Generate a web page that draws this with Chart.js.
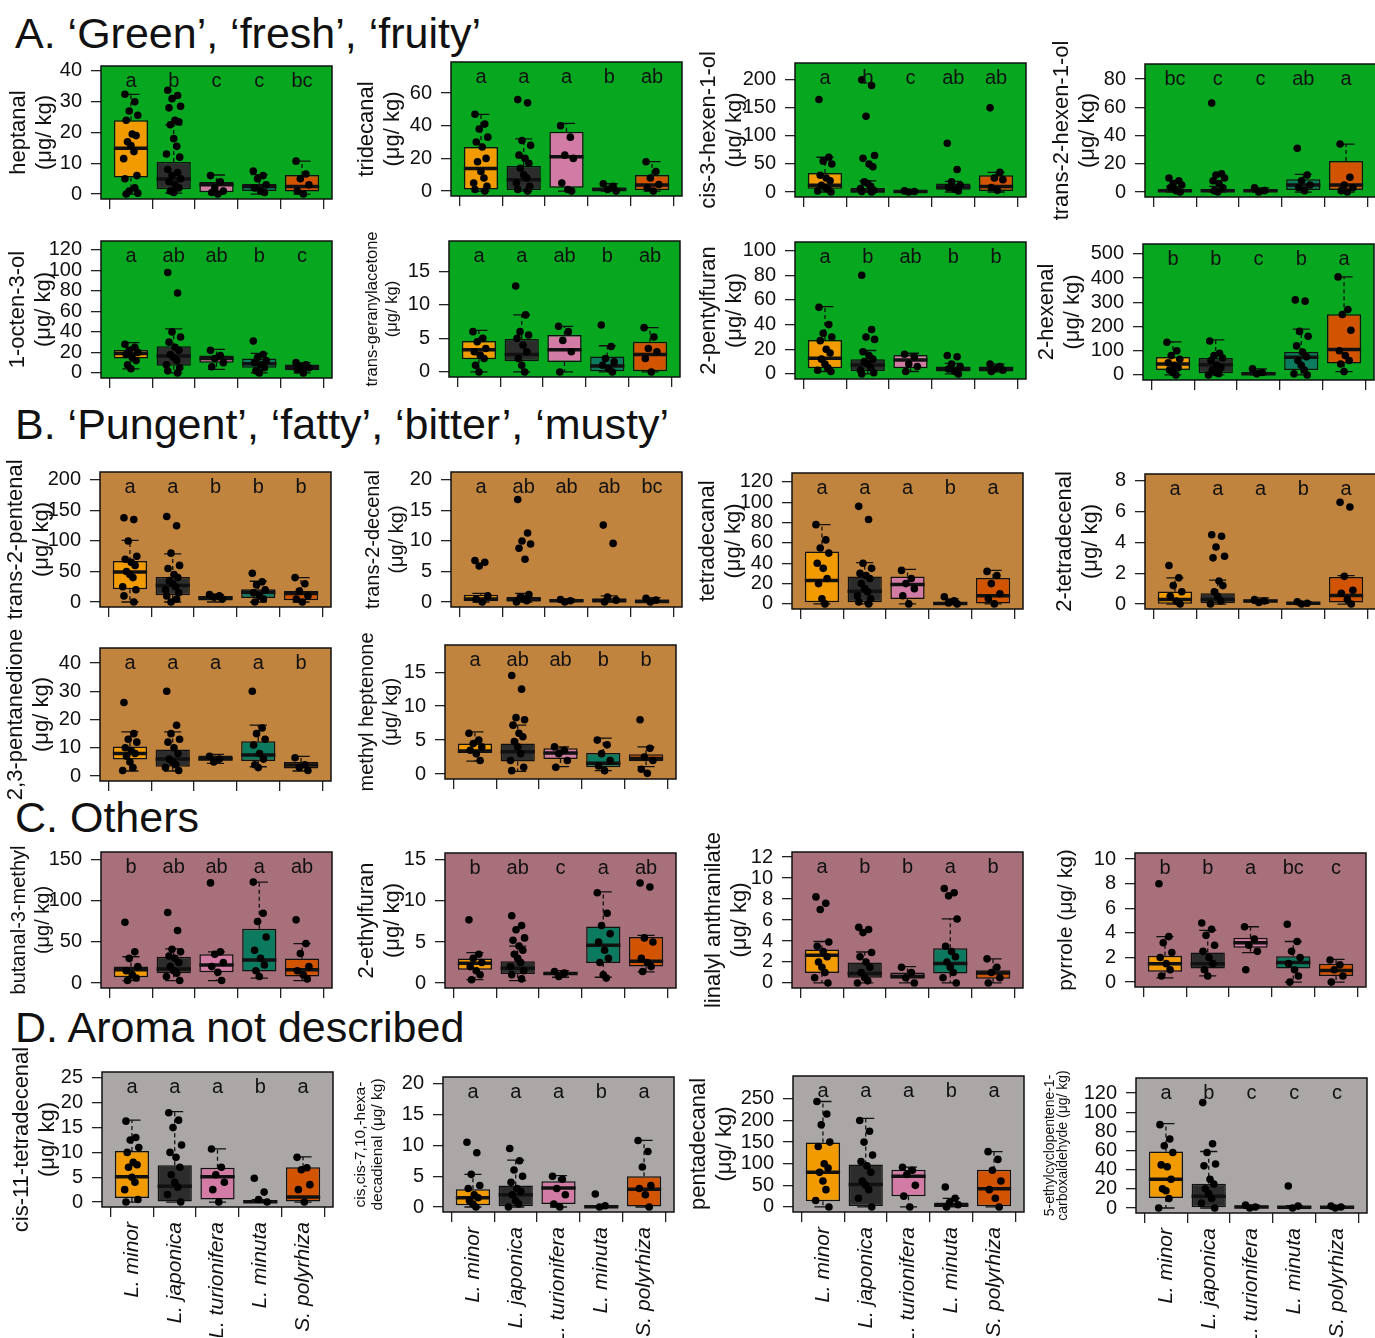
<!DOCTYPE html>
<html>
<head>
<meta charset="utf-8">
<script src="https://cdn.jsdelivr.net/npm/chart.js@4.4.1/dist/chart.umd.min.js"></script>
<style>
  html, body { margin: 0; padding: 0; background: #fff; }
  #page { position: relative; width: 1375px; height: 1338px; overflow: hidden; font-family: 'Liberation Sans', Arial, sans-serif; }
  .sec { position: absolute; left: 15px; font-size: 43px; line-height: 1; color: #111; white-space: nowrap; }
  canvas { position: absolute; }
</style>
</head>
<body>
<div id="page">
  <div class="sec" style="top:12px">A. ‘Green’, ‘fresh’, ‘fruity’</div>
  <div class="sec" style="top:403px">B. ‘Pungent’, ‘fatty’, ‘bitter’, ‘musty’</div>
  <div class="sec" style="top:796px">C. Others</div>
  <div class="sec" style="top:1006px">D. Aroma not described</div>
</div>
<script>
const species = ['L. minor', 'L. japonica', 'L. turionifera', 'L. minuta', 'S. polyrhiza'];
const speciesColors = ['#f29b00', '#2c2c2c', '#d27ba5', '#0c7a5e', '#d35400'];

// each box row: [lower whisker, q1, median, q3, upper whisker], one row per species
const heptanalBox = [[0,5.4,14.9,24,32.4],[0.3,1.6,4.9,10.4,22.5],[0,0.6,3.0,3.9,6.2],[0,1.0,2.5,3.3,6.3],[0,0.8,2.5,6.2,10.7]];
const heptanalPts = [[32.4,30,27,25.6,24,19.5,19,17,15.8,13.8,11.5,6,5,2,1,0.3,0],[33.7,32,31,28.5,28,24,23.5,22.5,18,15.5,13,12,8,7,6,5,4,3,2,1,0.5],[6,4,2,1,0.5,0],[7.5,6,5,3,2,1,0.5],[10.7,6.5,5,3,1,0]];
const heptanalSig = ['a','b','c','c','bc'];
const heptanalTicks = [0,10,20,30,40];

const tridecanalBox = [[0,1,13.9,27,47],[0,0.6,7,15.3,32],[0,2,21,36.3,41.4],[0,0.2,1,2.2,4.5],[0,0.5,3.7,9.8,18]];
const tridecanalPts = [[47,41,38,33,30,27,20,18,12,8,5,3,1,0],[56,54,31,28,22,20,17,14,10,8,5,3,1,0],[40,33,22,20,5,1,0],[4.5,3,1,0],[18,12,8,4,2,0]];
const tridecanalSig = ['a','a','a','b','ab'];
const tridecanalTicks = [0,20,40,60];

const cis3hexenolBox = [[0,6,12,34,62],[0,0.5,2,7,20],[0,0,1,2,3],[0,4,9,15,19],[0,2,10,30,35]];
const cis3hexenolPts = [[165,62,55,50,30,25,20,12,8,5,2,0],[200,190,135,65,60,50,45,18,15,10,6,3,1,0],[2,1,0],[87,40,18,12,8,5,2],[150,35,25,22,8,3]];
const cis3hexenolSig = ['a','b','c','ab','ab'];
const cis3hexenolTicks = [0,50,100,150,200];

const trans2hexenolBox = [[0,0.2,1,2,4],[0,0.3,1,2.2,4],[0,0.2,1,2,3],[0,1.5,5,9,12.5],[0,1.5,5,22,34]];
const trans2hexenolPts = [[10,8,6,5,3,1,0],[63,13,12,10,8,6,3,1,0],[3,1,0],[31,12,8,5,3,1],[34,10.5,5,3,1,0]];
const trans2hexenolSig = ['bc','c','c','ab','a'];
const trans2hexenolTicks = [0,20,40,60,80];

const octenolBox = [[4,14,19,22.4,29.6],[0,7,16.4,26,43],[3.5,10,14,17,23],[0,5,9,14,19],[0,2.6,5,8.2,10]];
const octenolPts = [[28,25,22,20,18,15,12,8,4],[98,78,40,35,30,25,22,18,15,12,8,5,2,0],[22,17,14,10,6],[31,18,15,12,10,8,5,2,0],[10,8,6,5,3,0]];
const octenolSig = ['a','ab','ab','b','c'];
const octenolTicks = [0,20,40,60,80,100,120];

const geranylacetoneBox = [[0,1.9,3.3,4.6,6.2],[0,1.6,2.6,4.9,8.5],[0,1.5,3.3,5.5,6.8],[0,0,0.9,2.3,3.9],[0,0,2.6,4.5,6.6]];
const geranylacetonePts = [[6,5,4.5,3.5,3,2.5,2,1,0],[12.8,8.5,6,5.5,5,4,3,2,1,0],[6.8,6,4.7,3,0],[7,3.8,2,1.5,1,0.5,0],[6.6,5.2,3.5,3,2,0]];
const geranylacetoneSig = ['a','a','ab','b','ab'];
const geranylacetoneTicks = [0,5,10,15];

const pentylfuranBox = [[2,4.6,12.7,27.6,54.6],[0,2.4,7.3,12,19],[2,4.6,11.4,15.4,16.8],[0,2,4,6,8.6],[1.6,2,4.3,6,8]];
const pentylfuranPts = [[54,40,33,30,27,20,17,12,8,5,3,2],[80,36,30,28,18,15,12,10,8,5,3,1,0],[16,14,8,6,2],[15,14,8,6,4,2,0],[8,6,4,3,2]];
const pentylfuranSig = ['a','b','ab','b','b'];
const pentylfuranTicks = [0,20,40,60,80,100];

const hexenalBox = [[0,21,45,74,137],[0,7,42,70,145],[0,0,5,10,25],[0,21,73,95,189],[14,47,105,251,405]];
const hexenalPts = [[135,100,80,65,50,40,30,20,10,0],[140,90,80,70,60,40,30,20,10,5,0],[25,10,5],[310,305,180,160,120,95,75,60,40,20,5,0],[405,270,250,185,100,80,60,45,14]];
const hexenalSig = ['b','b','c','b','a'];
const hexenalTicks = [0,100,200,300,400,500];

const pentenalBox = [[0,20.7,49,67,101],[0,11,27,41,79],[0,2.5,7,9.5,12],[0,6.5,16,20.7,34],[0,3,14,18,40]];
const pentenalPts = [[138,135,100,75,70,65,60,50,45,40,25,20,10,0],[140,125,80,60,55,45,40,35,30,25,20,15,10,5,0],[12,10,8,5],[47,33,28,20,15,10,5,0],[40,30,18,10,5,0]];
const pentenalSig = ['a','a','b','b','b'];
const pentenalTicks = [0,50,100,150,200];

const decenalBox = [[0,0,0.5,1.2,1.4],[0,0.1,0.4,0.8,1.4],[0,0.1,0.2,0.4,0.5],[0,0,0.2,0.6,1],[0,0,0.1,0.4,0.7]];
const decenalPts = [[6.8,6.5,5.9,1,0.5,0],[16.8,11.3,10,9.5,8.8,7,1.2,0.8,0.5,0.2,0],[0.4,0.2,0],[12.6,9.6,0.8,0.3,0],[0.6,0.3,0]];
const decenalSig = ['a','ab','ab','ab','bc'];
const decenalTicks = [0,5,10,15,20];

const tetradecanalBox = [[0,1.6,23,51.5,78],[0,1.6,12.4,27,40.7],[0,4.9,19,27,34],[0,0,0.5,1.6,5],[0,0.3,8.1,25.4,33]];
const tetradecanalPts = [[78,63,55,50,40,35,25,20,5,0],[96,83,40,35,30,28,25,20,15,12,8,5,2,0],[33,25,20,15,8,0],[7,3,1,0],[32,28,20,10,5,0]];
const tetradecanalSig = ['a','a','a','b','a'];
const tetradecanalTicks = [0,20,40,60,80,100,120];

const tetradecenalBox = [[0,0.02,0.3,0.82,1.7],[0,0.05,0.3,0.7,1.55],[0.05,0.1,0.2,0.3,0.4],[0,0,0.05,0.1,0.15],[0,0.1,0.55,1.75,1.85]];
const tetradecenalPts = [[2.5,1.7,1.2,0.8,0.5,0.2,0],[4.5,4.4,3.7,3.1,3.0,1.5,1.2,0.8,0.5,0.2,0],[0.3,0.2,0.1],[0.15,0.05,0],[6.6,6.3,1.8,0.9,0.7,0.3,0]];
const tetradecenalSig = ['a','a','a','b','a'];
const tetradecenalTicks = [0,2,4,6,8];

const pentanedioneBox = [[1.8,5.9,8,10.5,15.6],[1.8,3.3,6,9.4,15.6],[4.5,5.4,6.1,7.3,7.7],[3.3,5.3,7.5,12.3,18],[1.8,2.7,3.9,5,7]];
const pentanedionePts = [[26,15,13,12,10,9,8,7,5,3,2],[30,18,15,13,12,10,8,6,5,4,3,2],[7,6,5],[30,17,15,13,11,8,6,4,3],[6.5,4,3,2]];
const pentanedioneSig = ['a','a','a','a','b'];
const pentanedioneTicks = [0,10,20,30,40];

const heptenoneBox = [[1.9,3.1,3.4,4.5,6.2],[0.4,1.85,3.3,4.5,7.2],[1.1,2.2,3.1,3.8,4.0],[0.5,1,1.6,3.1,5.3],[1.1,1.9,2.3,2.9,4]];
const heptenonePts = [[6,5,4.5,4,3.5,3,2],[14.5,12.5,8.3,8,7.2,6,5.5,4.8,4,3,2,1,0.5],[4,3.5,3,2,1],[5,4.3,3,2,1.2,0.5],[8,3.8,2.5,2,0.7,0.1]];
const heptenoneSig = ['a','ab','ab','b','b'];
const heptenoneTicks = [0,5,10,15];

const methylbutanalBox = [[3,7,16,20,32],[3,12,17,32,41.5],[3,13,22,35,38],[6,14,28,66,123],[3,8,16,30,48]];
const methylbutanalPts = [[74,38,30,20,15,10,6,3],[86,64,41,38,33,30,25,20,15,12,8,3],[122,38,35,25,20,13,3],[123,85,75,56,40,30,22,15,8],[77,48,36,20,15,10,5]];
const methylbutanalSig = ['b','ab','ab','a','ab'];
const methylbutanalTicks = [0,50,100,150];

const ethylfuranBox = [[0.4,1.6,2.4,3,3.7],[0.3,1.1,1.8,2.65,4.5],[0.7,1.0,1.15,1.3,1.5],[0.7,2.45,4.6,6.9,11.1],[1.35,2,2.65,5.6,5.8]];
const ethylfuranPts = [[7.7,3.5,3,2.5,2,1.5,1,0.4],[8.2,7,6.5,5.5,5.2,4.5,4,3.5,3,2.5,2,1.5,1,0.5],[1.4,1.2,0.8],[11,8.5,7,6,5,4,3,2.5,1,0.6],[12.2,11.7,5.5,5,3,2.5,2,1.4]];
const ethylfuranSig = ['b','ab','c','a','ab'];
const ethylfuranTicks = [0,5,10,15];

const anthranilateBox = [[0,0.95,2.65,3.2,3.95],[0,0.5,0.9,1.95,2.95],[0,0.4,0.65,1.0,1.55],[0,0.9,1.85,3.3,6.1],[0,0.4,0.95,1.2,2.3]];
const anthranilatePts = [[8.2,7.6,7.0,3.9,3.5,3,2.5,2,1.5,1,0.5,0],[5.3,5.1,4.8,2.9,2.5,2,1.5,1,0.5,0.2,0],[1.5,1,0.5,0],[9,8.6,8.3,6.1,3.5,3,2.5,2,1.5,1,0.5,0],[2.3,1.5,1,0.5,0]];
const anthranilateSig = ['a','b','b','a','b'];
const anthranilateTicks = [0,2,4,6,8,10,12];

const pyrroleBox = [[0.35,0.85,1.5,2.15,3.7],[0.5,1.1,1.5,2.4,4.2],[2.4,2.8,3.2,3.6,4.5],[0,1.1,1.6,2.1,3.3],[0,0.5,0.95,1.5,1.85]];
const pyrrolePts = [[8,3.7,3.2,2.4,2,1.5,1,0.5],[4.8,4.3,3.8,3,2.5,2,1.5,1,0.5],[4.5,3.5,3,2.5,1.0],[4.7,3.3,2.5,2,1.5,1,0.5,0],[1.8,1.4,1,0.5,0]];
const pyrroleSig = ['b','b','a','bc','c'];
const pyrroleTicks = [0,2,4,6,8,10];

const cis11Box = [[0,0.8,5.1,10.3,16.5],[0,0,3.2,7.4,18.2],[0,0.5,5.1,6.9,10.7],[0,0,0.05,0.3,0.5],[0,0,1,7,9.1]];
const cis11Pts = [[16.3,13,12.5,11,10,8,7.5,7,5,4,2.5,0.5,0],[18,16.5,15,11.5,10,9,7,5.5,4,3,1.5,0],[10.7,7,5.5,4,2.5,0],[4.8,2,0.5,0],[9,6.9,6.5,3.5,2.5,0]];
const cis11Sig = ['a','a','a','b','a'];
const cis11Ticks = [0,5,10,15,20,25];

const hexadecadienalBox = [[0,0.3,1.5,2.9,5.3],[0,0,2,3.5,7.6],[0,0.5,3.1,4.2,5.1],[0,0,0.05,0.15,0.2],[0,0.1,2.9,5,10.8]];
const hexadecadienalPts = [[10.5,8.8,5.3,3.5,3,2,1.5,1,0.5,0],[9.5,7.5,6,5,4,3,2.5,2,1,0.5,0],[5,4.5,3,2,0.5,0],[2.1,0.2,0],[10.8,9,6.5,3.5,3,2,0]];
const hexadecadienalSig = ['a','a','a','b','a'];
const hexadecadienalTicks = [0,5,10,15,20];

const pentadecanalBox = [[0,13,80,149,244],[0,2.3,52,98,205],[0,25,71,86,92],[0,0,4,10,20],[0,0,42,86,128]];
const pentadecanalPts = [[244,215,190,150,140,100,90,80,60,40,15,0],[200,175,150,120,105,95,80,60,50,40,20,0],[92,85,75,50,25,0],[46,20,10,5,0],[128,110,85,60,40,20,0]];
const pentadecanalSig = ['a','a','a','b','a'];
const pentadecanalTicks = [0,50,100,150,200,250];

const cyclopenteneBox = [[0,10.5,30,59,88],[0,0,12.3,25.4,59],[0,0.3,1,2.5,3],[0,0,0.8,2,2.5],[0,0,0.7,1.8,2.2]];
const cyclopentenePts = [[87,72,65,58,45,43,30,20,18,10,0],[110,67,58,46,44,30,25,20,15,10,5,0],[3,1,0],[23,2,0],[2,1,0]];
const cyclopenteneSig = ['a','b','c','c','c'];
const cyclopenteneTicks = [0,20,40,60,80,100,120];

const FONT = "'Liberation Sans', Arial, sans-serif";
const BG = { A: '#07a820', B: '#c0843f', C: '#a8707b', D: '#aba7a7' };
const UG = '(μg/ kg)';
// fixed horizontal spread of the dots inside a box (in category units)
const jitter = [-0.14, 0.09, -0.04, 0.16, -0.11, 0.03, 0.12, -0.08, 0.0, 0.07, -0.17, 0.14];

const panels = [
  { box: heptanalBox, pts: heptanalPts, sig: heptanalSig, ticks: heptanalTicks, yMin: -1.6, yMax: 41.6, title: ['heptanal', UG], L: 101, T: 66, H: 133, TL: 10, bg: BG.A },
  { box: tridecanalBox, pts: tridecanalPts, sig: tridecanalSig, ticks: tridecanalTicks, yMin: -3, yMax: 79, title: ['tridecanal', UG], L: 451, T: 62, H: 134, TL: 358, bg: BG.A },
  { box: cis3hexenolBox, pts: cis3hexenolPts, sig: cis3hexenolSig, ticks: cis3hexenolTicks, yMin: -8.9, yMax: 230, title: ['cis-3-hexen-1-ol', UG], L: 795, T: 63, H: 134, TL: 700, bg: BG.A },
  { box: trans2hexenolBox, pts: trans2hexenolPts, sig: trans2hexenolSig, ticks: trans2hexenolTicks, yMin: -3.5, yMax: 90.7, title: ['trans-2-hexen-1-ol', UG], L: 1145, T: 64, H: 133, TL: 1053, bg: BG.A },

  { box: octenolBox, pts: octenolPts, sig: octenolSig, ticks: octenolTicks, yMin: -5, yMax: 128.7, title: ['1-octen-3-ol', UG], L: 101, T: 241, H: 137, TL: 9, bg: BG.A },
  { box: geranylacetoneBox, pts: geranylacetonePts, sig: geranylacetoneSig, ticks: geranylacetoneTicks, yMin: -0.75, yMax: 19.5, title: ['trans-geranylacetone', UG], tSize: 16.5, L: 449, T: 241, H: 136, TL: 366, bg: BG.A },
  { box: pentylfuranBox, pts: pentylfuranPts, sig: pentylfuranSig, ticks: pentylfuranTicks, yMin: -4.1, yMax: 107, title: ['2-pentylfuran', UG], L: 795, T: 242, H: 137, TL: 700, bg: BG.A },
  { box: hexenalBox, pts: hexenalPts, sig: hexenalSig, ticks: hexenalTicks, yMin: -20.8, yMax: 541, title: ['2-hexenal', UG], L: 1143, T: 244, H: 136, TL: 1038, bg: BG.A },

  { box: pentenalBox, pts: pentenalPts, sig: pentenalSig, ticks: pentenalTicks, yMin: -8.2, yMax: 213, title: ['trans-2-pentenal', UG], L: 100, T: 472, H: 135, TL: 7, bg: BG.B },
  { box: decenalBox, pts: decenalPts, sig: decenalSig, ticks: decenalTicks, yMin: -0.82, yMax: 21.3, title: ['trans-2-decenal', UG], tSize: 20, L: 451, T: 472, H: 135, TL: 365, bg: BG.B },
  { box: tetradecanalBox, pts: tetradecanalPts, sig: tetradecanalSig, ticks: tetradecanalTicks, yMin: -5, yMax: 128.8, title: ['tetradecanal', UG], L: 792, T: 473, H: 136, TL: 699, bg: BG.B },
  { box: tetradecenalBox, pts: tetradecenalPts, sig: tetradecenalSig, ticks: tetradecenalTicks, yMin: -0.32, yMax: 8.44, title: ['2-tetradecenal', UG], L: 1145, T: 474, H: 135, TL: 1056, bg: BG.B },

  { box: pentanedioneBox, pts: pentanedionePts, sig: pentanedioneSig, ticks: pentanedioneTicks, yMin: -1.74, yMax: 45.3, title: ['2,3-pentanedione', UG], L: 100, T: 648, H: 133, TL: 7, bg: BG.B },
  { box: heptenoneBox, pts: heptenonePts, sig: heptenoneSig, ticks: heptenoneTicks, yMin: -0.73, yMax: 19, title: ['methyl heptenone', UG], tSize: 20, L: 445, T: 645, H: 134, TL: 359, bg: BG.B },

  { box: methylbutanalBox, pts: methylbutanalPts, sig: methylbutanalSig, ticks: methylbutanalTicks, yMin: -6.1, yMax: 159.7, title: ['butanal-3-methyl', UG], tSize: 20, L: 101, T: 852, H: 136, TL: 11, bg: BG.C },
  { box: ethylfuranBox, pts: ethylfuranPts, sig: ethylfuranSig, ticks: ethylfuranTicks, yMin: -0.61, yMax: 15.85, title: ['2-ethylfuran', UG], L: 445, T: 853, H: 135, TL: 358, bg: BG.C },
  { box: anthranilateBox, pts: anthranilatePts, sig: anthranilateSig, ticks: anthranilateTicks, yMin: -0.48, yMax: 12.48, title: ['linalyl anthranilate', UG], L: 792, T: 852, H: 136, TL: 705, bg: BG.C },
  { box: pyrroleBox, pts: pyrrolePts, sig: pyrroleSig, ticks: pyrroleTicks, yMin: -0.4, yMax: 10.5, title: ['pyrrole ' + UG], tSize: 21, L: 1135, T: 853, H: 134, TL: 1058, bg: BG.C },

  { box: cis11Box, pts: cis11Pts, sig: cis11Sig, ticks: cis11Ticks, yMin: -1, yMax: 26.2, title: ['cis-11-tetradecenal', UG], L: 102, T: 1072, H: 135, TL: 13, bg: BG.D, labels: true },
  { box: hexadecadienalBox, pts: hexadecadienalPts, sig: hexadecadienalSig, ticks: hexadecadienalTicks, yMin: -0.81, yMax: 21.1, title: ['cis,cis-7,10,-hexa-', 'decadienal ' + UG], tSize: 15.5, lh: 1.05, L: 443, T: 1077, H: 135, TL: 355, bg: BG.D, labels: true },
  { box: pentadecanalBox, pts: pentadecanalPts, sig: pentadecanalSig, ticks: pentadecanalTicks, yMin: -11.7, yMax: 303, title: ['pentadecanal', UG], L: 793, T: 1076, H: 136, TL: 690, bg: BG.D, labels: true },
  { box: cyclopenteneBox, pts: cyclopentenePts, sig: cyclopenteneSig, ticks: cyclopenteneTicks, yMin: -5.2, yMax: 135.7, title: ['5-ethylcyclopentene-1-', 'carboxaldehyde ' + UG], tSize: 14, lh: 0.95, L: 1136, T: 1078, H: 135, TL: 1044, bg: BG.D, labels: true }
];

// R-style boxplot pieces: panel fill, whiskers + medians, group letters, frame
const rbox = {
  id: 'rbox',
  beforeDraw(chart, args, o) {
    const { ctx, chartArea: a } = chart;
    ctx.save();
    ctx.fillStyle = o.bg;
    ctx.fillRect(a.left, a.top, a.right - a.left, a.bottom - a.top);
    ctx.restore();
  },
  afterDatasetDraw(chart, args, o) {
    if (args.index !== 1) return;
    const { ctx } = chart;
    const xs = chart.scales.x, ys = chart.scales.y;
    const half = xs.getPixelForValue(0.4) - xs.getPixelForValue(0);
    ctx.save();
    ctx.strokeStyle = '#111';
    o.box.forEach((b, i) => {
      const cx = xs.getPixelForValue(i);
      ctx.lineWidth = 1.3;
      ctx.setLineDash([4, 3]);
      ctx.beginPath();
      ctx.moveTo(cx, ys.getPixelForValue(b[3])); ctx.lineTo(cx, ys.getPixelForValue(b[4]));
      ctx.moveTo(cx, ys.getPixelForValue(b[1])); ctx.lineTo(cx, ys.getPixelForValue(b[0]));
      ctx.stroke();
      ctx.setLineDash([]);
      ctx.beginPath();
      [b[0], b[4]].forEach(v => {
        const py = ys.getPixelForValue(v);
        ctx.moveTo(cx - half / 2, py); ctx.lineTo(cx + half / 2, py);
      });
      ctx.stroke();
      ctx.lineWidth = 3.5;
      ctx.beginPath();
      const my = ys.getPixelForValue(b[2]);
      ctx.moveTo(cx - half, my); ctx.lineTo(cx + half, my);
      ctx.stroke();
    });
    ctx.restore();
  },
  afterDraw(chart, args, o) {
    const { ctx, chartArea: a } = chart;
    const xs = chart.scales.x;
    ctx.save();
    ctx.fillStyle = '#111';
    ctx.font = '20px ' + FONT;
    ctx.textAlign = 'center';
    ctx.textBaseline = 'middle';
    o.sig.forEach((s, i) => ctx.fillText(s, xs.getPixelForValue(i), a.top + 15));
    ctx.strokeStyle = '#111';
    ctx.lineWidth = 1.5;
    ctx.strokeRect(a.left, a.top, a.right - a.left, a.bottom - a.top);
    ctx.restore();
  }
};

const page = document.getElementById('page');
panels.forEach(p => {
  const padTop = 30;
  const tSize = p.tSize || 22;
  const lh = p.lh || 1.18;
  const cl = p.TL - Math.max(1, Math.round((lh / 2 - 0.42) * tSize));
  const xh = p.labels ? 130 : 30;
  const w = p.L + 235 - cl;
  const h = padTop + p.H + xh;
  const cv = document.createElement('canvas');
  cv.width = w; cv.height = h;
  cv.style.left = cl + 'px'; cv.style.top = (p.T - padTop) + 'px';
  cv.style.width = w + 'px'; cv.style.height = h + 'px';
  page.appendChild(cv);

  const dots = [];
  p.pts.forEach((arr, i) => arr.forEach((v, k) => dots.push({ x: i + jitter[k % jitter.length], y: v })));

  new Chart(cv, {
    data: {
      datasets: [
        { type: 'scatter', data: dots, order: 0, pointRadius: 3.8, pointBackgroundColor: '#000', pointBorderWidth: 0 },
        { type: 'bar', data: p.box.map((b, i) => ({ x: i, y: [b[1], b[3]] })), order: 1,
          backgroundColor: speciesColors, borderColor: '#111', borderWidth: 1.5, borderSkipped: false,
          categoryPercentage: 1, barPercentage: 0.8, grouped: false }
      ]
    },
    options: {
      responsive: false, animation: false, devicePixelRatio: 1, events: [],
      layout: { padding: { top: padTop, left: 0, right: 0, bottom: 0 } },
      plugins: { legend: { display: false }, tooltip: { enabled: false }, rbox: { bg: p.bg, box: p.box, sig: p.sig } },
      scales: {
        x: {
          type: 'linear', min: -0.7, max: 4.7, offset: false,
          afterBuildTicks: s => { s.ticks = species.map((_, i) => ({ value: i })); },
          afterFit: s => { s.height = xh; },
          ticks: { callback: v => p.labels ? species[v] : '', minRotation: 90, maxRotation: 90, autoSkip: false,
                   font: { family: FONT, size: 21, style: 'italic' }, color: '#111', padding: 5 },
          grid: { drawOnChartArea: false, drawTicks: true, tickLength: 10, color: '#222', lineWidth: 1.3 },
          border: { display: false }
        },
        y: {
          type: 'linear', min: p.yMin, max: p.yMax,
          afterBuildTicks: s => { s.ticks = p.ticks.map(v => ({ value: v })); },
          afterFit: s => { s.width = p.L - cl; },
          ticks: { font: { family: FONT, size: 20 }, color: '#111', padding: 9, autoSkip: false },
          grid: { drawOnChartArea: false, tickLength: 10, color: '#222', lineWidth: 1.3 },
          border: { display: false },
          title: { display: true, text: p.title, color: '#111', padding: { top: 0, bottom: 0 },
                   font: { family: FONT, size: tSize, lineHeight: lh } }
        }
      }
    },
    plugins: [rbox]
  });
});
</script>
</body>
</html>
